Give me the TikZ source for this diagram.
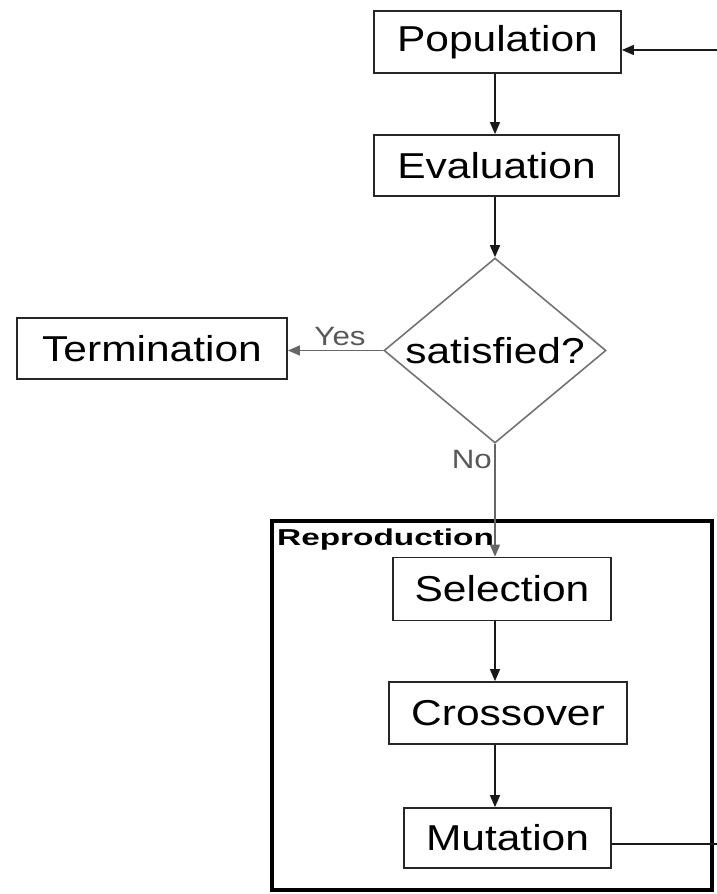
\documentclass[tikz,border=0pt]{standalone}
\usepackage{fontspec}
\setmainfont[FakeStretch=1.18]{Liberation Sans}
\newfontfamily\tagfont[FakeStretch=1.45]{Liberation Sans}
\usetikzlibrary{shapes.geometric,arrows.meta}

\begin{document}
\begin{tikzpicture}[x=1pt,y=-1pt,
  stage/.style={draw=black!85, line width=1.8pt, rectangle, inner sep=0pt,
    font=\fontsize{36}{40}\selectfont},
  test/.style={draw=black!55, line width=1.6pt, diamond, aspect=1.2, inner sep=0pt,
    minimum width=222pt, minimum height=185pt, font=\fontsize{36}{40}\selectfont},
  flow/.style={draw=black!90, line width=1.5pt, -{Triangle[length=12pt,width=10pt]}},
  branch/.style={draw=black!60, line width=1.5pt, -{Triangle[length=12pt,width=10pt]}},
  branchlabel/.style={text=black!65, font=\fontsize{26.5}{29}\selectfont, inner sep=0pt},
  groupbox/.style={draw=black, line width=3.5pt, rectangle, inner sep=0pt}
]
\useasboundingbox[fill=white] (0,0) rectangle (717,894);

% main loop
\node[stage, minimum width=247pt, minimum height=62pt] (pop)  at (497.5,42)  {Population};
\node[stage, minimum width=245pt, minimum height=61pt] (eval) at (496.5,165.5) {Evaluation};
\node[test] (cond) at (495,350.5) {satisfied?};
\node[stage, minimum width=270pt, minimum height=61pt] (term) at (152,348.5) {Termination};

% reproduction group
\node[groupbox, minimum width=440pt, minimum height=369pt] (repro) at (492,705.5) {};
\node[anchor=base west, inner sep=0pt, font=\tagfont\bfseries\fontsize{23}{25}\selectfont]
  (reprotag) at (277,545) {Reproduction};
\node[stage, minimum width=218pt, minimum height=63pt] (sel)   at (502,589)   {Selection};
\node[stage, minimum width=238pt, minimum height=62pt] (cross) at (508,713)   {Crossover};
\node[stage, minimum width=207pt, minimum height=60pt] (mut)   at (507.5,838) {Mutation};

% helper coordinates for the vertical trunks and the loop ends
\coordinate (trunk) at (495,0);
\coordinate (inner) at (495,0);
\coordinate (loopin)  at (717,50);
\coordinate (loopout) at (717,844);

% connectors
\draw[flow] (pop.south -| trunk) -- (eval.north -| trunk);
\draw[flow] (eval.south -| trunk) -- (cond.north);
\draw[branch] (cond.west) -- (term.east |- cond.west);
\node[branchlabel, anchor=base] (yes) at (340,345) {Yes};
\draw[branch] (cond.south) -- (cond.south |- sel.north);
\node[branchlabel, anchor=base east] (no) at (492,468) {No};
\draw[flow] (sel.south -| inner) -- (cross.north -| inner);
\draw[flow] (cross.south -| inner) -- (mut.north -| inner);
\draw[flow] (loopin) -- (loopin -| pop.east);
\draw[draw=black!90, line width=1.5pt] (mut.east |- loopout) -- (loopout);
\end{tikzpicture}
\end{document}
